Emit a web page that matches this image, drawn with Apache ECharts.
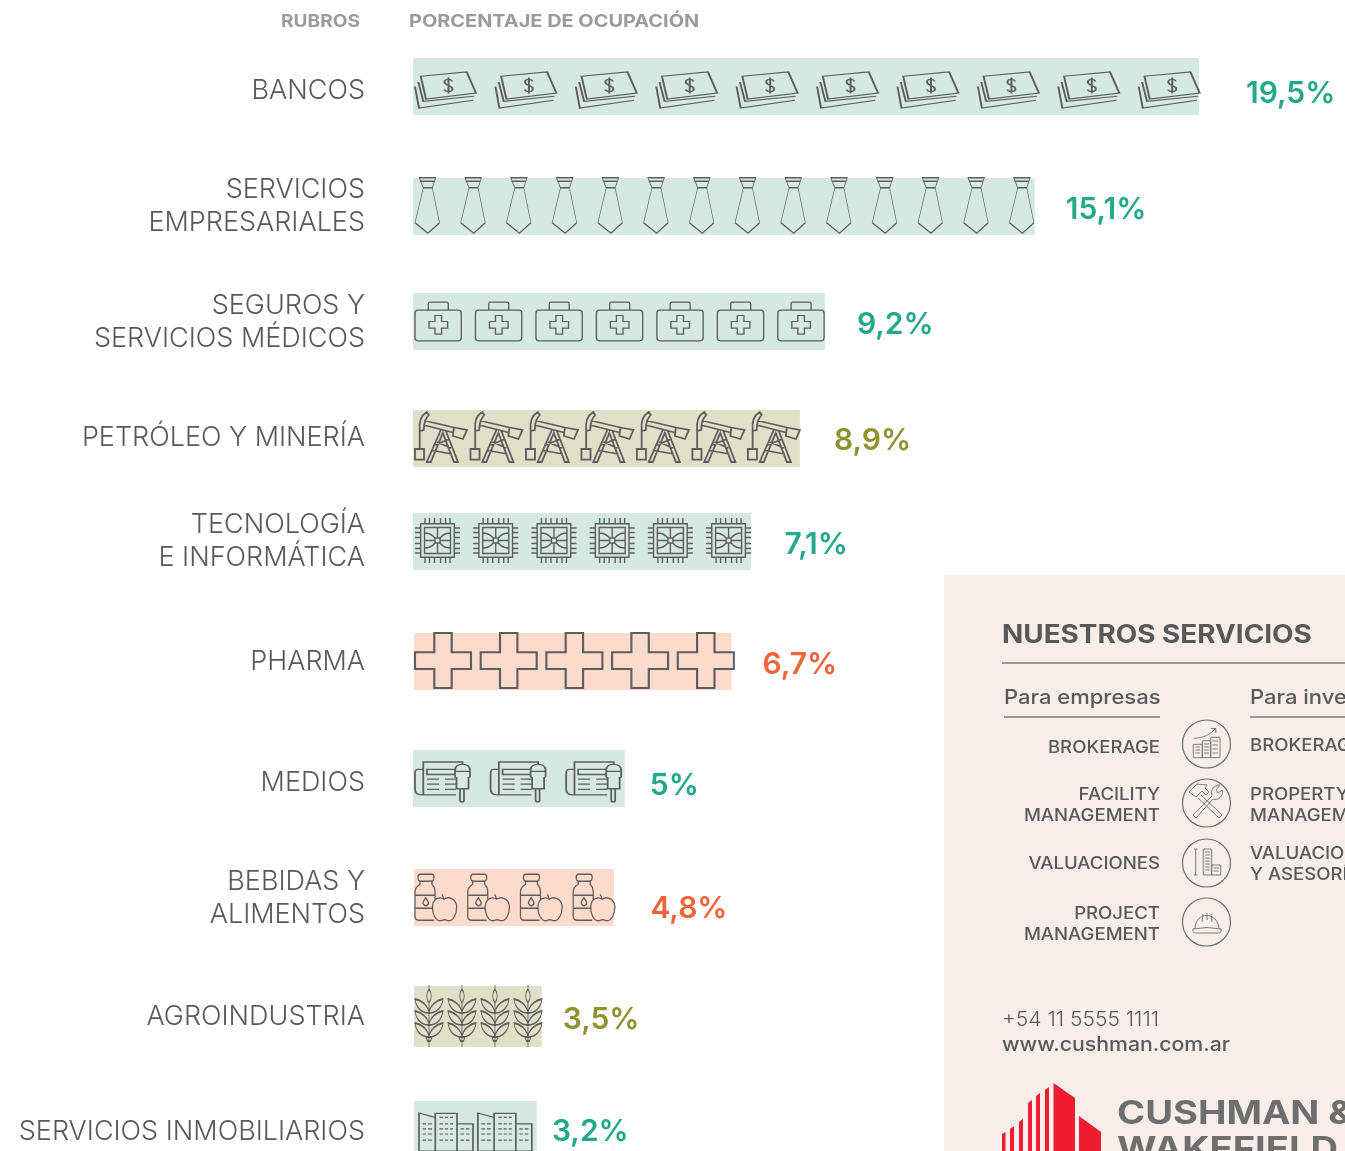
<!DOCTYPE html>
<html>
<head>
<meta charset="utf-8">
<style>
    html, body { margin: 0; padding: 0; background: #fff; overflow: hidden; }
    #officeChart { width: 1345px; height: 1151px; }
</style>
<script src="https://cdn.jsdelivr.net/npm/echarts@6/dist/echarts.min.js"></script>
</head>
<body>
<div id="officeChart"></div>
<script>
// chart data
let categories = ['BANCOS', 'SERVICIOS\nEMPRESARIALES', 'SEGUROS Y\nSERVICIOS MÉDICOS', 'PETRÓLEO Y MINERÍA', 'TECNOLOGÍA\nE INFORMÁTICA',
    'PHARMA', 'MEDIOS', 'BEBIDAS Y\nALIMENTOS', 'AGROINDUSTRIA', 'SERVICIOS INMOBILIARIOS'];
let percentValues = [19.5, 15.1, 9.2, 8.9, 7.1, 6.7, 5, 4.8, 3.5, 3.2];
// the printed bars are not to scale with the printed percent, these are the lengths as drawn
let drawnLengths = [19.48, 15.41, 10.21, 9.59, 8.38, 7.88, 5.25, 4.96, 3.17, 3.05];
let iconCounts = [10, 14, 7, 7, 6, 5, 3, 4, 4, 2];
let iconSpans = [19.45, 15.34, 10.14, 9.54, 8.33, 7.91, 5.11, 4.96, 3.15, 2.80];
let sectorGroups = ['teal', 'teal', 'teal', 'olive', 'teal', 'orange', 'teal', 'orange', 'olive', 'teal'];

// layout of the rows, the reference spaces them unevenly, the last one runs off the page
let rowTops = [58, 178, 293, 410, 513, 633, 750, 869, 986, 1101];
let rowHeights = [57, 57, 57, 57, 57, 57, 57, 57, 61, 50];
let rowLefts = [413, 413, 413, 413, 413, 414, 413, 414, 414, 414];
let valueGaps = [47, 31, 32, 34, 33.5, 31, 25, 36.5, 21, 15];
let valueShifts = [7.5, 3.5, 3.5, 2, 3, 3.5, 7.5, 11.5, 3.5, 6];
let nameShifts = [4.5, 0, 1, -0.5, 0, 0.5, 4.5, 1, 0.5, 6];
let iconShifts = [[2, 3.5], [2, -1], [2, 0], [2, -1.5], [2, -1], [1, -1], [2, 3.5], [1, 0], [1, -0.5], [5, 6]];
let axisMax = 23.1;
let gridWidth = 932;

let bandColors = { teal: '#d5e8e2', olive: '#e0e0c9', orange: '#fddbcc' };
let valueColors = { teal: '#22a98c', olive: '#8f932f', orange: '#f2633a' };
let textGray = '#58595b';
let fontName = 'Inter';
let nameLineHeight = 33;
let iconStroke = 0.55;

function chipIcon() {
    let d = 'M5.7 5.7H39.3V39.3H5.7Z M9.5 9.5H35.5V35.5H9.5Z M20 20H25V25H20Z';
    [10, 14.5, 19.5, 25.5, 30.5, 35].forEach(function (p) {
        d += ' M' + p + ' 0V5.7 M' + p + ' 39.3V45 M0 ' + p + 'H5.7 M39.3 ' + p + 'H45';
    });
    d += ' M22.5 9.5V20 M22.5 25V35.5 M9.5 22.5H20 M25 22.5H35.5';
    d += ' M9.5 15Q16 15 20 20 M35.5 15Q29 15 25 20 M9.5 30Q16 30 20 25 M35.5 30Q29 30 25 25';
    return 'path://' + d;
}

function wheatIcon() {
    let d = 'M14 0V5 M14 18V62 M14 4Q9.5 11 14 18Q18.5 11 14 4Z M11 52H17L15.5 56H12.5Z';
    [28, 40, 52].forEach(function (y) {
        d += ' M14 ' + y + 'C6 ' + y + ' 1 ' + (y - 6) + ' 0 ' + (y - 14) + 'C6 ' + (y - 13) + ' 13 ' + (y - 8) + ' 14 ' + y + 'Z';
        d += ' M14 ' + y + 'C22 ' + y + ' 27 ' + (y - 6) + ' 28 ' + (y - 14) + 'C22 ' + (y - 13) + ' 15 ' + (y - 8) + ' 14 ' + y + 'Z';
    });
    return 'path://' + d;
}

function buildingIcon() {
    let d = 'M0 0.7L16.3 5V38H0Z M16.3 1H38V38H16.3Z M38 11.3H54V38H38Z';
    [11.3, 16.3, 21.3, 27.3].forEach(function (y) {
        d += ' M3.5 ' + y + 'H7 M9 ' + y + 'H13';
    });
    [5, 11.3, 16.3, 21.3, 27.3].forEach(function (y) {
        d += ' M20.5 ' + y + 'H24 M26 ' + y + 'H29 M31 ' + y + 'H34';
    });
    [16.3, 21.3, 27.3].forEach(function (y) {
        d += ' M41.5 ' + y + 'H45 M47 ' + y + 'H50.5';
    });
    return 'path://' + d;
}

let rowIcons = [
    { // billetes
        size: [61, 36],
        path: 'path://M5.7 4.3L51.7 0L61 21L11 27Z M3.3 10L8.3 29.3L59 24.3 M0 14.5L4 36L58.3 28.3 ' +
            'M37 9.5C37 6.5 29.5 6.5 29.5 10C29.5 14 37.5 13 37.5 17C37.5 20.5 29.5 20 29.5 17.5 M33.5 5.5V21.5'
    },
    { // corbata
        size: [24.5, 55.5],
        path: 'path://M4.3 0H20.7L17.3 10H8.3Z M8.3 10L0 45L13 55.5L24.5 45L17.3 10 M5 3.5H19.5'
    },
    { // maletin
        size: [46.3, 38.7],
        path: 'path://M3 8H43.3Q46.3 8 46.3 11V35.7Q46.3 38.7 43.3 38.7H3Q0 38.7 0 35.7V11Q0 8 3 8Z M13.3 8V1.5Q13.3 0 15 0H31.5Q33.3 0 33.3 1.5V8 ' +
            'M20 13.4H26.6V19.4H32.6V26H26.6V32H20V26H14V19.4H20Z'
    },
    { // pozo
        size: [52, 50],
        path: 'path://M0.3 37H9.3V47.7H0.3Z M5 19V37 M5 19C4 10 7 3 12 0L14 3C11 6 9 11 9 18Z M9.5 8.5L39 15.5 M9 13L38 20.5 ' +
            'M39 15.5L52 18L48 27L38 24Z M26 18L12 50H16L28 21L39 50H43L31 19 M20 33L33.5 27.5 M17.5 38.5L37 42 M22 30L36 36'
    },
    { size: [45, 45], path: chipIcon() },
    { // cruz
        size: [56, 55],
        path: 'path://M19.3 0H36.7V19.3H56V36H36.7V55H19.3V36H0V19.3H19.3Z'
    },
    { // diario y microfono
        size: [55, 40],
        path: 'path://M8 8H3Q0 8 0 12V27Q0 33 6 33H41 M8.3 33Q8.3 31 8.3 29V0.7H47.5V3 M12 8H40V13H12Z M12 17.5H24 M30 17.5H41 M12 22.5H24 M30 22.5H41 M12 27.5H24 M30 27.5H41 ' +
            'M40 9Q40 3 47.5 3Q55 3 55 9V15Q55 16 53.5 16V27H41.5V16Q40 16 40 15Z M40 10H55 M45 27V38Q45 40 47 40Q49 40 49 38V27'
    },
    { // botella y manzana
        size: [41.7, 46.5],
        path: 'path://M5 0H17Q19 0 19 3Q19 7 16 7H6Q3 7 3 3.5Q3 0 5 0Z M5 7V10Q0 13 0 18V42Q0 46 4 46H19 M17 7V10Q20 13 20 17V25 M0 21H20 M0 34H17 ' +
            'M10.7 23.5Q7.5 28 8 29Q9 31.5 11 31.5Q13.5 31 13.5 28.5Q13 27 10.7 23.5Z ' +
            'M29 25C25 22 18 24 17.5 32C17 40 21 46.5 25 46.5C27 46.5 28 45.5 29.5 45.5C31 45.5 32 46.5 34 46.5C38 46.5 42 40 41.7 32C41 24 33 22 29 25Z M29 25L27 20'
    },
    { size: [28, 62], path: wheatIcon() },
    { size: [54, 38], path: buildingIcon() }
];

let grids = [], xAxes = [], yAxes = [], series = [];
categories.forEach(function (name, i) {
    let lineCount = name.split('\n').length;
    let icon = rowIcons[i];
    // pictorialBar shrinks the stroke by the symbol scale and counts it into the symbol length
    let border = iconStroke * Math.sqrt(icon.size[0] * icon.size[1]) / 2;
    let borderLength = iconStroke * icon.size[0] / 2;
    grids.push({ left: rowLefts[i], top: rowTops[i], width: gridWidth, height: rowHeights[i] });
    xAxes.push({ type: 'value', gridIndex: i, min: 0, max: axisMax, show: false });
    yAxes.push({
        type: 'category',
        gridIndex: i,
        data: [name],
        axisLine: { show: false },
        axisTick: { show: false },
        axisLabel: {
            margin: rowLefts[i] - 365,
            fontFamily: fontName,
            fontWeight: 300,
            fontSize: 27,
            lineHeight: nameLineHeight,
            color: textGray,
            align: 'right',
            // top aligned so that padding moves the text, middle aligned ignores it
            verticalAlign: 'top',
            padding: [nameShifts[i] - lineCount * nameLineHeight / 2, 0, 0, 0]
        }
    });
    series.push({
        type: 'bar',
        xAxisIndex: i,
        yAxisIndex: i,
        barWidth: '100%',
        silent: true,
        data: [drawnLengths[i]],
        itemStyle: { color: bandColors[sectorGroups[i]] },
        label: {
            show: true,
            position: 'right',
            distance: valueGaps[i],
            offset: [0, valueShifts[i]],
            formatter: String(percentValues[i]).replace('.', ',') + '%',
            fontFamily: fontName,
            fontWeight: 600,
            fontSize: 30,
            color: valueColors[sectorGroups[i]]
        }
    });
    series.push({
        type: 'pictorialBar',
        xAxisIndex: i,
        yAxisIndex: i,
        silent: true,
        z: 3,
        data: [drawnLengths[i]],
        symbol: icon.path,
        symbolSize: icon.size,
        symbolRepeat: iconCounts[i],
        symbolBoundingData: iconSpans[i] + borderLength * axisMax / gridWidth,
        symbolPosition: 'start',
        symbolOffset: [iconShifts[i][0] - borderLength / 2, iconShifts[i][1]],
        itemStyle: { color: 'rgba(0,0,0,0)', borderColor: '#5d5d5d', borderWidth: border }
    });
});

// side panel, not part of the data
function panelText(text, x, y, size, weight, align, color, stretch) {
    return {
        type: 'text',
        x: x,
        y: y + 1.5,
        scaleX: stretch || 1.1,
        silent: true,
        style: {
            text: text, fill: color || textGray, fontSize: size, fontWeight: weight, fontFamily: fontName,
            align: align || 'left', verticalAlign: 'middle'
        }
    };
}
function panelLine(x1, y, x2, color) {
    return { type: 'line', silent: true, shape: { x1: x1, y1: y, x2: x2, y2: y }, style: { stroke: color || '#7d7d7d', lineWidth: 1.5 } };
}
// graphic has no path element of its own, so each drawing is registered as a shape
function panelIcon(name, cy, d) {
    echarts.graphic.registerShape(name, echarts.graphic.extendPath(d, {}));
    return [
        { type: 'circle', silent: true, shape: { cx: 1206.5, cy: cy, r: 24 }, style: { fill: 'none', stroke: '#6d6e70', lineWidth: 1.2 } },
        { type: name, silent: true, style: { fill: 'none', stroke: '#6d6e70', lineWidth: 0.9 } }
    ];
}
function logoBar(points) {
    return { type: 'polygon', silent: true, shape: { points: points }, style: { fill: '#ee1c2e' } };
}

let graphicElements = [
    panelText('RUBROS', 360, 20.5, 17.4, 700, 'right', '#9b9b9d'),
    panelText('PORCENTAJE DE OCUPACIÓN', 409, 20.5, 17.8, 700, 'left', '#9b9b9d', 1.12),
    { type: 'rect', silent: true, z: -1, shape: { x: 944, y: 575, width: 401, height: 576 }, style: { fill: '#f7eeea' } },
    panelText('NUESTROS SERVICIOS', 1002, 634, 25, 700, 'left', textGray, 1.115),
    panelLine(1002, 663, 1345),
    panelText('Para empresas', 1004, 696, 20, 500),
    panelLine(1004, 717, 1160),
    panelText('Para inversores', 1250, 696, 20, 500),
    panelLine(1250, 717, 1345),
    panelText('BROKERAGE', 1160, 746.5, 16.9, 500, 'right'),
    panelText('FACILITY', 1160, 793, 16.9, 500, 'right'),
    panelText('MANAGEMENT', 1160, 814, 16.9, 500, 'right'),
    panelText('VALUACIONES', 1160, 862.5, 16.9, 500, 'right'),
    panelText('PROJECT', 1160, 912, 16.9, 500, 'right'),
    panelText('MANAGEMENT', 1160, 933, 16.9, 500, 'right'),
    panelText('BROKERAGE', 1250, 744.5, 16.9, 500),
    panelText('PROPERTY', 1250, 793, 16.9, 500),
    panelText('MANAGEMENT', 1250, 814, 16.9, 500),
    panelText('VALUACIONES', 1250, 852, 16.9, 500),
    panelText('Y ASESORÍA', 1250, 873, 16.9, 500),
    panelText('+54 11 5555 1111', 1002, 1019, 19.5, 300, 'left', textGray, 1.08),
    panelText('www.cushman.com.ar', 1002, 1044, 19.5, 500, 'left', textGray, 1.09),
    panelText('CUSHMAN &', 1117, 1112.5, 32, 700, 'left', '#6d6e70', 1.19),
    panelText('WAKEFIELD', 1117, 1149, 32, 700, 'left', '#6d6e70', 1.19),
    logoBar([[1002, 1134], [1005.5, 1132], [1005.5, 1151], [1002, 1151]]),
    logoBar([[1010, 1129], [1014, 1126], [1014, 1151], [1010, 1151]]),
    logoBar([[1019, 1122], [1023, 1119], [1023, 1151], [1019, 1151]]),
    logoBar([[1028, 1103], [1032, 1100], [1032, 1151], [1028, 1151]]),
    logoBar([[1036, 1096], [1040, 1093], [1040, 1151], [1036, 1151]]),
    logoBar([[1045, 1090], [1049, 1087], [1049, 1151], [1045, 1151]]),
    logoBar([[1053.5, 1083], [1075, 1098], [1075, 1151], [1053.5, 1151]]),
    logoBar([[1079, 1116], [1101, 1132], [1101, 1151], [1079, 1151]])
];
graphicElements = graphicElements.concat(
    panelIcon('serviceBrokerage', 744, 'M1193.3 744.3H1202.3V757.7H1193.3Z M1202.3 740.7H1210.7V757.7H1202.3Z M1210.7 737.3H1220V757.7H1210.7Z ' +
        'M1195.5 747H1200 M1195.5 750H1200 M1195.5 753H1200 M1204 744H1209 M1204 747H1209 M1204 750H1209 M1204 753H1209 M1212.5 741H1218 M1212.5 745H1218 M1212.5 749H1218 M1212.5 753H1218 ' +
        'M1194 738.3Q1208 738 1215.7 728.3 M1211 728.5H1215.8V733'),
    panelIcon('serviceFacility', 803, 'M1189 792L1197 784L1207 785L1205 788L1209 792L1206 795L1202 791L1196 797Z M1201 795L1222 815L1219 818L1198 798 ' +
        'M1193 815L1212 796C1210 790 1214 785 1220 785L1216 790L1218 793L1222 790C1224 796 1218 801 1213 799L1196 818Z'),
    panelIcon('serviceValuation', 863, 'M1203.3 849H1211.7V875H1203.3Z M1211.7 865H1220.7V875H1211.7Z M1195.7 849V875 M1194 849H1197.5 M1194 875H1197.5 ' +
        'M1205 852H1210 M1205 855H1210 M1205 858H1210 M1205 861H1210 M1205 864H1210 M1205 867H1210 M1205 870H1210 M1213.5 868H1219 M1213.5 871H1219'),
    panelIcon('serviceProject', 922, 'M1195 929C1195 911 1218 911 1219 929 M1193 929Q1207 926 1221 929Q1222 933 1218 933H1196Q1192 933 1193 929Z M1203 914L1202 922 M1211 914L1212 922 M1207 913V920')
);

let officeChart = echarts.init(document.getElementById('officeChart'));
officeChart.setOption({
    animation: false,
    grid: grids,
    xAxis: xAxes,
    yAxis: yAxes,
    series: series,
    graphic: { elements: graphicElements }
});
</script>
</body>
</html>
